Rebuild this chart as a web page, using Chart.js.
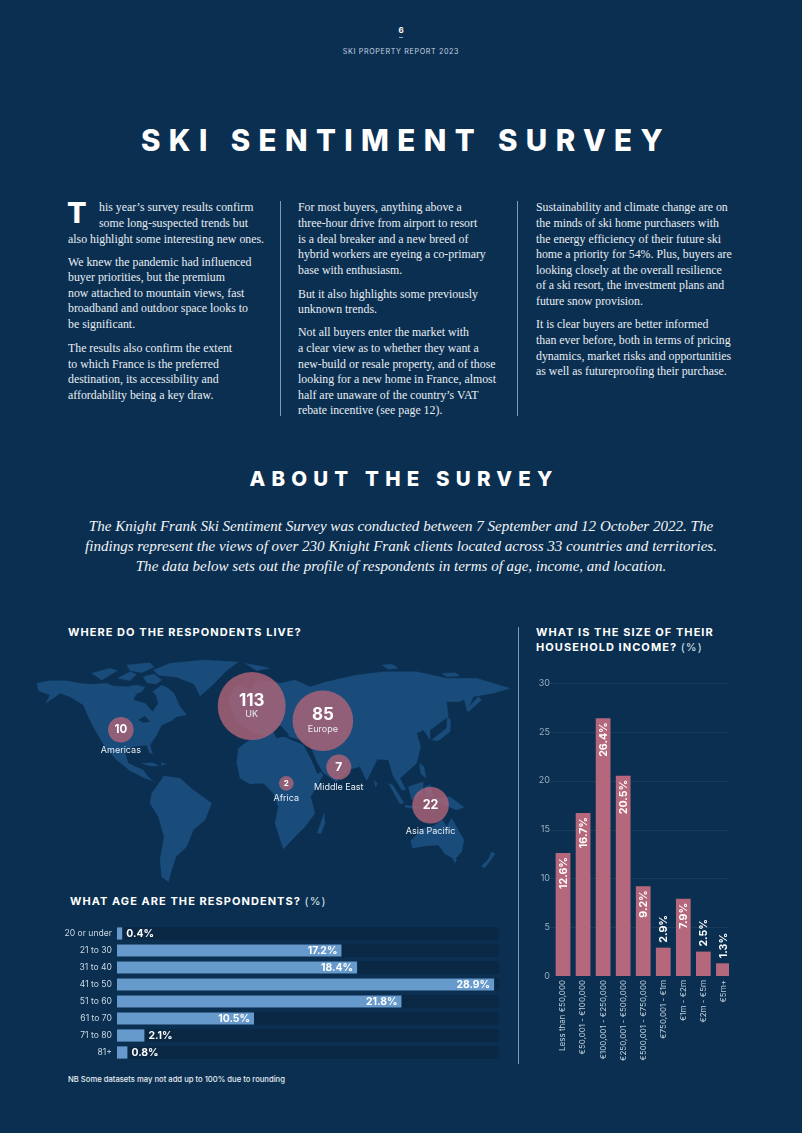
<!DOCTYPE html>
<html><head><meta charset="utf-8">
<script src="https://cdn.jsdelivr.net/npm/chart.js@4"></script>
<style>
html,body{margin:0;padding:0;background:#0b2f50;}
#page{position:relative;width:802px;height:1133px;background:#0b2f50;overflow:hidden;color:#fff;font-family:Inter,sans-serif;}
.a{position:absolute;white-space:nowrap;}
.b{font-family:"Liberation Serif",serif;font-size:11.85px;line-height:16px;color:#e8eef4;}
.i{font-family:"Liberation Serif",serif;font-style:italic;font-size:15.05px;line-height:20px;color:#f2f5f8;left:0;width:802px;text-align:center;}
.h{font-weight:700;font-size:11px;line-height:14px;letter-spacing:1.05px;color:#fff;}
.h span{font-weight:400;color:#dbe4ec;}
.rule{position:absolute;width:1px;background:#7f9ab5;}
canvas{position:absolute;display:block;}
svg{position:absolute;left:0;top:0;}
</style></head><body><div id="page">
<div class="a" style="left:0;width:802px;text-align:center;top:25px;font-size:8px;line-height:10px;font-weight:700;">6</div>
<div class="a" style="left:399px;top:37px;width:4px;height:1px;background:#8fa8c0;"></div>
<div class="a" style="left:0;width:802px;text-align:center;top:47px;font-size:7.2px;line-height:10px;letter-spacing:.62px;color:#c4d3e1;">SKI PROPERTY REPORT 2023</div>
<div class="a" style="left:5px;width:802px;text-align:center;top:120px;font-size:29.5px;line-height:40px;font-weight:800;letter-spacing:8.4px;">SKI SENTIMENT SURVEY</div>
<div class="a" style="left:67px;top:196px;font-size:29px;line-height:34px;font-weight:800;">T</div>
<div id="body"></div>
<div class="rule" style="left:280px;top:201px;height:215px;"></div>
<div class="rule" style="left:517px;top:201px;height:215px;"></div>
<div class="a" style="left:3px;width:802px;text-align:center;top:464px;font-size:20.5px;line-height:30px;font-weight:800;letter-spacing:6.2px;">ABOUT THE SURVEY</div>
<div class="a i" style="top:516px;">The Knight Frank Ski Sentiment Survey was conducted between 7 September and 12 October 2022. The</div>
<div class="a i" style="top:536px;">findings represent the views of over 230 Knight Frank clients located across 33 countries and territories.</div>
<div class="a i" style="top:556px;">The data below sets out the profile of respondents in terms of age, income, and location.</div>
<div class="a h" style="left:68px;top:625px;">WHERE DO THE RESPONDENTS LIVE?</div>
<div class="a h" style="left:70px;top:894px;">WHAT AGE ARE THE RESPONDENTS? <span>(%)</span></div>
<div class="a h" style="left:536px;top:625px;">WHAT IS THE SIZE OF THEIR</div>
<div class="a h" style="left:536px;top:640px;">HOUSEHOLD INCOME? <span>(%)</span></div>
<div class="a" style="left:68px;top:1075px;font-size:7.65px;line-height:10px;font-weight:500;color:#e6edf3;">NB Some datasets may not add up to 100% due to rounding</div>
<div class="rule" style="left:518px;top:627px;height:437px;"></div>
<svg width="802" height="1133" viewBox="0 0 802 1133">
<g fill="#194c7b" stroke="#194c7b" stroke-width="1" stroke-linejoin="round">
<g transform="translate(30,650) scale(.33333)">
<path d="M20,100 L60,92 110,92 150,100 180,103 230,100 250,108 290,110 320,105 345,112 335,125 318,132 310,150 345,160 368,185 385,160 378,135 368,125 395,105 415,115 432,130 450,170 470,195 440,200 425,212 395,225 378,258 360,285 368,312 358,308 350,285 310,290 282,300 295,340 320,352 340,360 352,378 368,392 345,385 300,362 260,330 225,290 195,240 175,200 160,165 120,140 90,130 48,160 60,135 25,122Z"/>
<path d="M185,70 L240,55 262,62 215,90Z"/><path d="M262,85 L300,65 320,72 300,92Z"/><path d="M290,45 L360,38 372,52 335,68 300,62Z"/><path d="M340,80 L372,72 395,90 378,102 350,98Z"/>
<path d="M370,60 L420,40 520,30 625,36 592,60 545,108 510,138 492,102 440,82 385,76Z"/>
<path d="M365,430 L402,378 450,385 490,420 545,460 525,510 490,540 470,590 438,620 425,660 415,695 395,680 390,630 402,560 385,500 360,460Z"/>
<path d="M335,340 L368,338 388,347 360,348Z"/><path d="M393,338 L410,342 395,346Z"/>
</g>
<g transform="translate(260,650) scale(.33333)">
<path d="M-70,340 L-65,295 -25,265 50,255 75,262 130,285 162,345 190,375 152,440 165,490 135,530 105,560 70,597 45,520 55,470 40,430 10,400 -30,402 -60,385Z"/>
<path d="M-95,145 L-70,105 -30,120 -10,90 60,100 105,90 150,110 200,95 290,75 370,65 470,65 560,85 650,85 750,115 700,130 640,140 622,182 612,148 600,155 560,155 565,200 510,240 510,268 490,240 470,250 482,290 470,340 420,385 438,420 425,420 398,375 385,330 352,328 320,392 300,350 270,358 228,395 190,368 150,305 135,275 75,255 30,265 -20,250 -70,215Z"/>
<path d="M-45,40 L0,48 30,55 -10,62Z" /><path d="M365,45 L395,42 415,55 385,58Z"/><path d="M545,70 L585,68 600,78 560,80Z"/>
<path d="M385,400 L398,405 432,458 420,462Z"/><path d="M435,465 L472,470 470,476 436,472Z"/><path d="M445,410 L490,395 488,430 455,450Z"/>
<path d="M495,410 L512,405 520,442 500,440Z"/><path d="M478,340 L492,350 498,385 482,370Z"/>
<path d="M525,445 L570,440 612,472 590,480 545,462Z"/>
<path d="M515,270 L560,235 562,200 572,210 570,245 535,272Z"/><path d="M545,150 L552,190 545,195Z"/>
<path d="M343,392 L352,400 347,412Z"/><path d="M172,548 L192,490 195,520 182,552Z"/><path d="M618,180 L655,140 665,150 625,185Z"/>
<path d="M458,595 L452,572 490,535 520,528 548,510 560,530 575,505 612,570 605,605 585,628 555,612 535,585 495,588Z"/>
<path d="M578,625 L590,628 585,640Z"/><path d="M695,605 L705,612 685,640 672,655 665,648 685,628Z"/>
</g>
</g>
<g fill="#0b2f50">
<g transform="translate(30,650) scale(.33333)"><path d="M320,135 L350,125 372,150 345,158 312,148Z"/><path d="M325,210 L345,198 360,215 340,218Z"/></g>
<g transform="translate(260,650) scale(.33333)"><path d="M135,275 L150,285 182,365 172,372Z"/><path d="M40,245 L60,225 88,255 50,265Z"/></g>
</g>
</svg>
<canvas id="mapChart" width="492" height="250" style="left:19px;top:640px;width:492px;height:250px;"></canvas>
<canvas id="ageChart" width="440" height="136" style="left:60px;top:925px;width:440px;height:136px;"></canvas>
<canvas id="incomeChart" width="207" height="400" style="left:530px;top:673px;width:207px;height:400px;"></canvas>
</div>
<script>
// ---------- Data ----------
const regionNames = ["UK","Europe","Americas","Middle East","Africa","Asia Pacific"];
const regionRespondents = [113,85,10,7,2,22];
const regionLon = [-5,48.5,-103.4,60.5,21,129.5];
const regionLat = [40.5,32.8,28,8.4,-0.2,-11.7];

const ageLabels = ["20 or under","21 to 30","31 to 40","41 to 50","51 to 60","61 to 70","71 to 80","81+"];
const ageValues = [0.4,17.2,18.4,28.9,21.8,10.5,2.1,0.8];

const incomeLabels = ["Less than €50,000","€50,001 - €100,000","€100,001 - €250,000","€250,001 - €500,000","€500,001 - €750,000","€750,001 - €1m","€1m - €2m","€2m - €5m","€5m+"];
const incomeValues = [12.6,16.7,26.4,20.5,9.2,2.9,7.9,2.5,1.3];
const incomeTicks = [0,5,10,15,20,25,30];

// ---------- Body copy ----------
const bodyLines = [
[99,207,"his year’s survey results confirm"],[99,223,"some long-suspected trends but"],[68,239,"also highlight some interesting new ones."],
[68,262,"We knew the pandemic had influenced"],[68,277,"buyer priorities, but the premium"],[68,293,"now attached to mountain views, fast"],[68,308,"broadband and outdoor space looks to"],[68,324,"be significant."],
[68,348,"The results also confirm the extent"],[68,364,"to which France is the preferred"],[68,379,"destination, its accessibility and"],[68,395,"affordability being a key draw."],
[298,207,"For most buyers, anything above a"],[298,223,"three-hour drive from airport to resort"],[298,239,"is a deal breaker and a new breed of"],[298,254,"hybrid workers are eyeing a co-primary"],[298,270,"base with enthusiasm."],
[298,294,"But it also highlights some previously"],[298,309,"unknown trends."],
[298,332,"Not all buyers enter the market with"],[298,348,"a clear view as to whether they want a"],[298,364,"new-build or resale property, and of those"],[298,379,"looking for a new home in France, almost"],[298,395,"half are unaware of the country’s VAT"],[298,410,"rebate incentive (see page 12)."],
[536,207,"Sustainability and climate change are on"],[536,223,"the minds of ski home purchasers with"],[536,239,"the energy efficiency of their future ski"],[536,254,"home a priority for 54%. Plus, buyers are"],[536,270,"looking closely at the overall resilience"],[536,285,"of a ski resort, the investment plans and"],[536,301,"future snow provision."],
[536,324,"It is clear buyers are better informed"],[536,340,"than ever before, both in terms of pricing"],[536,356,"dynamics, market risks and opportunities"],[536,371,"as well as futureproofing their purchase."]
];
const bodyEl = document.getElementById('body');
bodyLines.forEach(l=>{const d=document.createElement('div');d.className='a b';d.style.left=l[0]+'px';d.style.top=(l[1]-8)+'px';d.textContent=l[2];bodyEl.appendChild(d);});

// ---------- Charts ----------
Chart.defaults.font.family = 'Inter, sans-serif';
Chart.defaults.animation = false;
Chart.defaults.responsive = false;
Chart.defaults.layout.autoPadding = false;
Chart.defaults.plugins.legend.display = false;
Chart.defaults.plugins.tooltip.enabled = false;

const bubbleRadii = [34,30.3,12.8,12.5,7.3,18.3];
const bubbleNumberFont = [17,17,11.5,12,8,12.5];

new Chart(document.getElementById('mapChart'),{
  type:'bubble',
  data:{datasets:[{
    data:regionRespondents.map((v,i)=>({x:regionLon[i],y:regionLat[i],r:bubbleRadii[i]})),
    backgroundColor:'rgba(176,100,120,0.8)',borderWidth:0,clip:false
  }]},
  options:{
    layout:{padding:0},
    scales:{x:{display:false,type:'linear',min:-180,max:190},y:{display:false,type:'linear',min:-56.3158,max:75.2632}},
  },
  plugins:[{id:'bubbleLabels',afterDatasetsDraw(chart){
    const c=chart.ctx,m=chart.getDatasetMeta(0);
    c.save();c.textAlign='center';c.textBaseline='middle';
    m.data.forEach((p,i)=>{
      const r=bubbleRadii[i],inside=r>25;
      c.fillStyle='#fff';c.font='700 '+bubbleNumberFont[i]+'px Inter, sans-serif';
      c.fillText(String(regionRespondents[i]),p.x,inside?p.y-5.5:p.y);
      c.fillStyle='#e8eef4';c.font='400 9px Inter, sans-serif';
      c.fillText(regionNames[i],p.x,inside?p.y+8.5:p.y+r+8);
    });
    c.restore();
  }}]
});

new Chart(document.getElementById('ageChart'),{
  type:'bar',
  data:{labels:ageLabels,datasets:[{data:ageValues,backgroundColor:'#6699cc',barPercentage:.72,categoryPercentage:1,borderWidth:0}]},
  options:{
    indexAxis:'y',layout:{padding:0},
    scales:{
      x:{display:false,min:0,max:29.35},
      y:{grid:{display:false,drawTicks:false},border:{display:false},
         afterFit(s){s.width=57;s.paddingTop=0;s.paddingBottom=0;},
         ticks:{color:'#cbd8e4',font:{size:8.6},padding:5,autoSkip:false}}
    }
  },
  plugins:[{id:'tracks',beforeDatasetsDraw(chart){
    const c=chart.ctx,a=chart.chartArea,y=chart.scales.y;
    c.save();c.fillStyle='#0a2743';
    ageLabels.forEach((l,i)=>{c.fillRect(a.left,y.getPixelForValue(i)-6.2,a.right-a.left-1,12.4);});
    c.restore();
  },afterDatasetsDraw(chart){
    const c=chart.ctx,m=chart.getDatasetMeta(0);
    c.save();c.font='700 10.4px Inter, sans-serif';c.fillStyle='#fff';c.textBaseline='middle';
    m.data.forEach((b,i)=>{
      const inside=ageValues[i]>=10,t=ageValues[i].toFixed(1)+'%';
      c.textAlign=inside?'right':'left';
      c.fillText(t,inside?b.x-4:b.x+4,b.y+.5);
    });
    c.restore();
  }}]
});

new Chart(document.getElementById('incomeChart'),{
  type:'bar',
  data:{labels:incomeLabels,datasets:[{data:incomeValues,backgroundColor:'#b5677c',barPercentage:.735,categoryPercentage:1,borderWidth:0,clip:{left:0,top:0,bottom:0,right:-4.4}}]},
  options:{
    layout:{padding:{top:10}},
    scales:{
      x:{grid:{display:false,drawTicks:false},border:{display:false},
         afterFit(s){s.height=97;},
         ticks:{color:'#c3d1de',font:{size:8},padding:4,autoSkip:false,maxRotation:90,minRotation:90}},
      y:{min:0,max:30,grid:{display:false,drawTicks:false},border:{display:false},
         afterFit(s){s.width=23;},
         afterBuildTicks(s){s.ticks=incomeTicks.map(v=>({value:v}));},
         ticks:{color:'#9db0c3',font:{size:9},padding:3}}
    }
  },
  plugins:[{id:'incomeGrid',beforeDatasetsDraw(chart){
    const c=chart.ctx,a=chart.chartArea,y=chart.scales.y;
    c.save();c.strokeStyle='rgba(150,180,210,.09)';c.lineWidth=1;
    incomeTicks.forEach(v=>{if(!v)return;const p=Math.round(y.getPixelForValue(v))+.5;c.beginPath();c.moveTo(a.left-3,p);c.lineTo(a.right-4.4,p);c.stroke();});
    c.restore();
  },afterDatasetsDraw(chart){
    const c=chart.ctx,m=chart.getDatasetMeta(0);
    c.save();c.font='700 10.6px Inter, sans-serif';c.fillStyle='#fff';c.textBaseline='middle';
    m.data.forEach((b,i)=>{
      const inside=incomeValues[i]>=5,t=incomeValues[i].toFixed(1)+'%';
      c.save();
      c.translate(b.x,inside?b.y+4:b.y-5);
      c.rotate(-Math.PI/2);
      c.textAlign=inside?'right':'left';
      c.fillText(t,0,.5);
      c.restore();
    });
    c.restore();
  }}]
});
</script>
</body></html>
